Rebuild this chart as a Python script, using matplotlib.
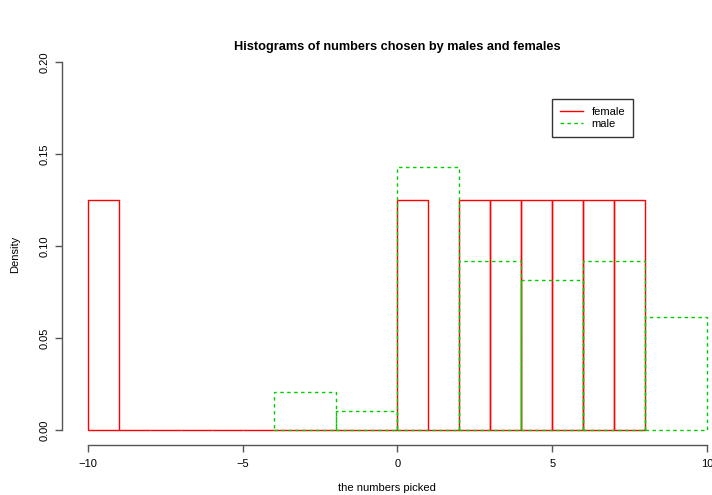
import numpy as np
import matplotlib
matplotlib.use("Agg")
import matplotlib.pyplot as plt

plt.rcParams['font.family'] = ['Liberation Sans', 'DejaVu Sans']

# female picks: unit-width bins from -10 to 8
female_edges = np.arange(-10, 9, 1)
female_counts = [1, 0, 0, 0, 0, 0, 0, 0, 0, 0, 1, 0, 1, 1, 1, 1, 1, 1]

# male picks: bins of width 2 from -4 to 10
male_edges = np.arange(-4, 11, 2)
male_counts = [2, 1, 14, 9, 8, 9, 6]

x_ticks = [-10, -5, 0, 5, 10]
y_ticks = [0.00, 0.05, 0.10, 0.15, 0.20]

red = '#ff0000'
green = '#00cc00'
dash = (0, (2.5, 2.5))


def density(counts, edges):
    counts = np.asarray(counts, dtype=float)
    widths = np.diff(edges)
    return counts / (counts.sum() * widths)


fig = plt.figure(figsize=(7.12, 4.95), dpi=100)
W, H = 712, 495
ax = fig.add_axes([62 / W, (H - 445) / H, (712 - 62) / W, (445 - 62) / H])

f_dens = density(female_counts, female_edges)
m_dens = density(male_counts, male_edges)

ax.bar(female_edges[:-1], f_dens, width=np.diff(female_edges), align='edge',
       fill=False, edgecolor=red, linewidth=1.0)
ax.bar(male_edges[:-1], m_dens, width=np.diff(male_edges), align='edge',
       fill=False, edgecolor=green, linewidth=1.0, linestyle=dash)

px_x = 619 / 20
px_y = 368 / 0.2
ax.set_xlim(-10 - 26 / px_x, 10 + 5 / px_x)
ax.set_ylim(-15 / px_y, 0.2)

for s in ['top', 'right']:
    ax.spines[s].set_visible(False)
ax.spines['left'].set_bounds(0, 0.2)
ax.spines['bottom'].set_bounds(-10, 10)
for s in ['left', 'bottom']:
    ax.spines[s].set_color('#555555')
    ax.spines[s].set_linewidth(1.0)

ax.set_xticks(x_ticks)
ax.set_xticklabels(['\u221210', '\u22125', '0', '5', '10'])
ax.set_yticks(y_ticks)
ax.set_yticklabels(['%.2f' % v for v in y_ticks], rotation=90, va='center')
ax.tick_params(direction='out', length=5, width=1.0, color='#555555',
               labelsize=8)
ax.tick_params(axis='x', pad=5)
ax.tick_params(axis='y', pad=4)

fig.text(387 / W, 1 - 488 / H, 'the numbers picked', ha='center', va='center',
         fontsize=8)
fig.text(15 / W, 1 - 254 / H, 'Density', ha='center', va='center',
         rotation=90, fontsize=8)
fig.text(397 / W, 1 - 47 / H, 'Histograms of numbers chosen by males and females',
         ha='center', va='center', fontsize=9.2, fontweight='bold')

handles = [plt.Line2D([], [], color=red, lw=1.0),
           plt.Line2D([], [], color=green, lw=1.0, linestyle=dash)]
leg = ax.legend(handles=handles, labels=['female', 'male'],
                loc='upper left',
                bbox_to_anchor=((552 - 62) / 650, (445 - 99) / 383),
                fontsize=8, frameon=True, fancybox=False, handlelength=2.0,
                handletextpad=0.8, borderpad=0.75, labelspacing=0.15,
                borderaxespad=0)
leg.get_frame().set_edgecolor('black')
leg.get_frame().set_linewidth(1.0)

fig.savefig('out.png', dpi=100)
